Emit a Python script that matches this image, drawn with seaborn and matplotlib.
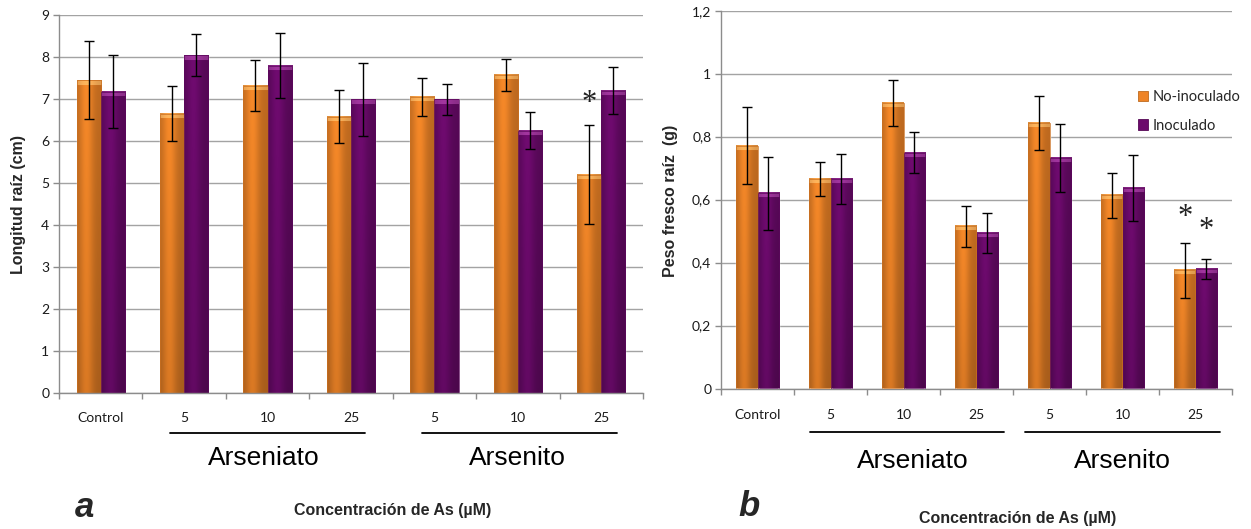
import numpy as np
import pandas as pd
import matplotlib
matplotlib.use("Agg")
import matplotlib.pyplot as plt
import matplotlib.colors as mcolors
from matplotlib.ticker import FuncFormatter, MultipleLocator, FixedLocator
import seaborn as sns

# ---- data -------------------------------------------------------------
conditions = ["Control", "Arseniato 5", "Arseniato 10", "Arseniato 25",
              "Arsenito 5", "Arsenito 10", "Arsenito 25"]
tick_labels = ["Control", "5", "10", "25", "5", "10", "25"]
treatments = ["No-inoculado", "Inoculado"]

longitud_no = [7.45, 6.65, 7.32, 6.58, 7.05, 7.58, 5.20]
longitud_no_err = [0.92, 0.65, 0.61, 0.63, 0.45, 0.38, 1.17]
longitud_ino = [7.17, 8.04, 7.79, 6.99, 6.99, 6.25, 7.20]
longitud_ino_err = [0.87, 0.50, 0.77, 0.87, 0.37, 0.45, 0.56]

peso_no = [0.771, 0.666, 0.908, 0.515, 0.842, 0.614, 0.375]
peso_no_err = [0.122, 0.055, 0.073, 0.066, 0.086, 0.071, 0.087]
peso_ino = [0.620, 0.666, 0.749, 0.493, 0.732, 0.638, 0.379]
peso_ino_err = [0.116, 0.080, 0.065, 0.063, 0.108, 0.105, 0.031]

# significance marks: (condition, treatment, height)
longitud_marks = [("Arsenito 25", "No-inoculado", 6.90)]
peso_marks = [("Arsenito 25", "No-inoculado", 0.544),
              ("Arsenito 25", "Inoculado", 0.501)]

ORANGE = "#EE8427"
PURPLE = "#6C0A6C"
CAP = {ORANGE: "#FBB560", PURPLE: "#A33AA0"}
GRID = "#A3A3A3"
SPINE = "#8C8C8C"

sns.set_style("white")
plt.rcParams["font.family"] = ["Liberation Sans", "DejaVu Sans"]

TICK_FONT = ["Lato", "DejaVu Sans"]


def long_table(no, ino):
    return pd.DataFrame({
        "condicion": conditions * 2,
        "tratamiento": [treatments[0]] * len(conditions) + [treatments[1]] * len(conditions),
        "valor": list(no) + list(ino),
    })


def shade_bars(ax, container, base_hex):
    """Overlay a cylinder-like shading and a light top cap on each bar."""
    base = np.array(mcolors.to_rgb(base_hex))
    cap = np.array(mcolors.to_rgb(CAP[base_hex]))
    px_per_unit = abs(ax.transData.transform((0, 1))[1] - ax.transData.transform((0, 0))[1])
    for patch in container.patches:
        x0, y0 = patch.get_x(), patch.get_y()
        w, h = patch.get_width(), patch.get_height()
        if h <= 0:
            continue
        hpx = max(int(h * px_per_unit), 2)
        nx = 48
        u = np.linspace(0, 1, nx)
        v = np.linspace(0, 1, hpx)
        horiz = 0.80 + 0.24 * np.exp(-((u - 0.38) / 0.28) ** 2)
        vert = 0.88 + 0.12 * v
        fac = vert[:, None] * horiz[None, :]
        img = np.clip(base[None, None, :] * fac[:, :, None], 0, 1)
        cap_rows = 5
        for k in range(1, cap_rows + 1):
            blend = 0.85 if k > 1 else 0.5
            row = np.clip(cap[None, :] * (0.9 + 0.15 * np.exp(-((u - 0.4) / 0.35) ** 2))[:, None], 0, 1)
            img[-k] = blend * row + (1 - blend) * img[-k]
        ax.imshow(img, extent=(x0, x0 + w, y0, y0 + h), origin="lower",
                  aspect="auto", interpolation="bilinear",
                  zorder=patch.get_zorder() + 0.1)
        ax.add_patch(plt.Rectangle((x0, y0), w, h, fill=False,
                                   edgecolor=mcolors.to_hex(base * 0.85), lw=0.5,
                                   zorder=patch.get_zorder() + 0.2))


def draw_panel(ax, no, no_err, ino, ino_err, ymax, ystep, fmt, tick_pad, marks):
    df = long_table(no, ino)
    ax.set_autoscale_on(False)
    ax.set_xlim(-0.5, len(conditions) - 0.5)
    ax.set_ylim(0, ymax)
    sns.barplot(data=df, x="condicion", y="valor", hue="tratamiento",
                order=conditions, hue_order=treatments,
                palette=[ORANGE, PURPLE], width=0.58, errorbar=None,
                saturation=1, ax=ax, legend=False, zorder=2)
    ax.set_xlim(-0.5, len(conditions) - 0.5)
    ax.set_ylim(0, ymax)

    centers = {}
    for cont, errs, treat, col in zip(ax.containers, [no_err, ino_err], treatments, [ORANGE, PURPLE]):
        xs = [p.get_x() + p.get_width() / 2 for p in cont.patches]
        ys = [p.get_height() for p in cont.patches]
        for c, x in zip(conditions, xs):
            centers[(c, treat)] = x
        shade_bars(ax, cont, col)
        ax.errorbar(xs, ys, yerr=errs, fmt="none", ecolor="black",
                    elinewidth=1.0, capsize=3.5, capthick=1.0, zorder=6)

    for cond, treat, y in marks:
        ax.text(centers[(cond, treat)], y, "*", ha="center", va="center",
                fontsize=22, family=["Liberation Serif", "DejaVu Serif"],
                color="#222222", zorder=7)

    # axes styling
    ax.set_xlim(-0.5, len(conditions) - 0.5)
    ax.set_ylim(0, ymax)
    ax.yaxis.set_major_locator(MultipleLocator(ystep))
    ax.yaxis.set_major_formatter(FuncFormatter(fmt))
    ax.yaxis.grid(True, color=GRID, lw=1.0)
    ax.set_axisbelow(True)
    ax.set_xticks(range(len(conditions)))
    ax.set_xticklabels(tick_labels)
    ax.xaxis.set_minor_locator(FixedLocator(np.arange(-0.5, len(conditions), 1.0)))
    ax.tick_params(axis="x", which="major", length=0, pad=tick_pad,
                   labelsize=10, labelcolor="#1a1a1a")
    ax.tick_params(axis="x", which="minor", length=4, width=1, color=SPINE,
                   direction="out", bottom=True)
    ax.tick_params(axis="y", which="major", length=4, width=1, color=SPINE,
                   direction="out", left=True, labelsize=10, labelcolor="#1a1a1a", pad=3)
    for lab in ax.get_xticklabels() + ax.get_yticklabels():
        lab.set_family(TICK_FONT)
    for side in ("top", "right"):
        ax.spines[side].set_visible(False)
    for side in ("left", "bottom"):
        ax.spines[side].set_color(SPINE)
        ax.spines[side].set_linewidth(1.0)
    ax.set_xlabel("")


def group_labels(ax, line_y, text_y, spans, centers):
    tr = ax.get_xaxis_transform()
    for (x0, x1), xc, name in zip(spans, centers, ["Arseniato", "Arsenito"]):
        ax.plot([x0, x1], [line_y, line_y], color="black", lw=1.3,
                transform=tr, clip_on=False)
        ax.text(xc, text_y, name, transform=tr, ha="center", va="baseline",
                fontsize=19, color="black", clip_on=False)


fig = plt.figure(figsize=(12.51, 5.29), dpi=100)
ax_a = fig.add_axes([59 / 1251, 1 - 393 / 529, 584 / 1251, 378 / 529])
ax_b = fig.add_axes([721 / 1251, 1 - 388.5 / 529, 511 / 1251, 377.8 / 529])


def fmt_a(v, pos):
    return f"{v:.0f}"


def fmt_b(v, pos):
    s = f"{v:.1f}"
    if s.endswith(".0"):
        s = s[:-2]
    return s.replace(".", ",")


draw_panel(ax_a, longitud_no, longitud_no_err, longitud_ino, longitud_ino_err,
           9, 1, fmt_a, 14, longitud_marks)
draw_panel(ax_b, peso_no, peso_no_err, peso_ino, peso_ino_err,
           1.2, 0.2, fmt_b, 15, peso_marks)

ax_a.set_ylabel("Longitud raíz (cm)", fontsize=11.5, fontweight="bold", va="center")
ax_a.yaxis.set_label_coords(-0.0697, 0.50)
ax_b.set_ylabel("Peso fresco raíz  (g)", fontsize=11.5, fontweight="bold", va="center")
ax_b.yaxis.set_label_coords(-0.0998, 0.497)

group_labels(ax_a, -0.1045, -0.1905, [(0.830, 3.168), (3.855, 6.192)], [1.957, 5.0])
group_labels(ax_b, -0.1150, -0.2096, [(0.719, 3.380), (3.664, 6.336)], [2.123, 5.0])

# legend for panel b
handles = [plt.Rectangle((0, 0), 1, 1, facecolor=c, edgecolor=mcolors.to_hex(np.array(mcolors.to_rgb(c)) * 0.8), lw=0.6)
           for c in (ORANGE, PURPLE)]
leg = ax_b.legend(handles, treatments, loc="upper left",
                  bbox_to_anchor=(1138 / 1251, 1 - 90 / 529), bbox_transform=fig.transFigure,
                  frameon=False, handlelength=0.7, handleheight=0.7, handletextpad=0.3,
                  labelspacing=1.0, borderaxespad=0, borderpad=0,
                  prop={"family": TICK_FONT, "size": 10.5})

fig.text(85 / 1251, 1 - 516.7 / 529, "a", fontsize=25, fontweight="bold",
         style="italic", ha="center", va="baseline")
fig.text(749.5 / 1251, 1 - 515.7 / 529, "b", fontsize=25, fontweight="bold",
         style="italic", ha="center", va="baseline")
fig.text(392.5 / 1251, 1 - 515 / 529, "Concentración de As (µM)", fontsize=11.5,
         fontweight="bold", ha="center", va="baseline")
fig.text(1018 / 1251, 1 - 523 / 529, "Concentración de As (µM)", fontsize=11.5,
         fontweight="bold", ha="center", va="baseline")

fig.savefig("out.png", dpi=100, facecolor="white")
